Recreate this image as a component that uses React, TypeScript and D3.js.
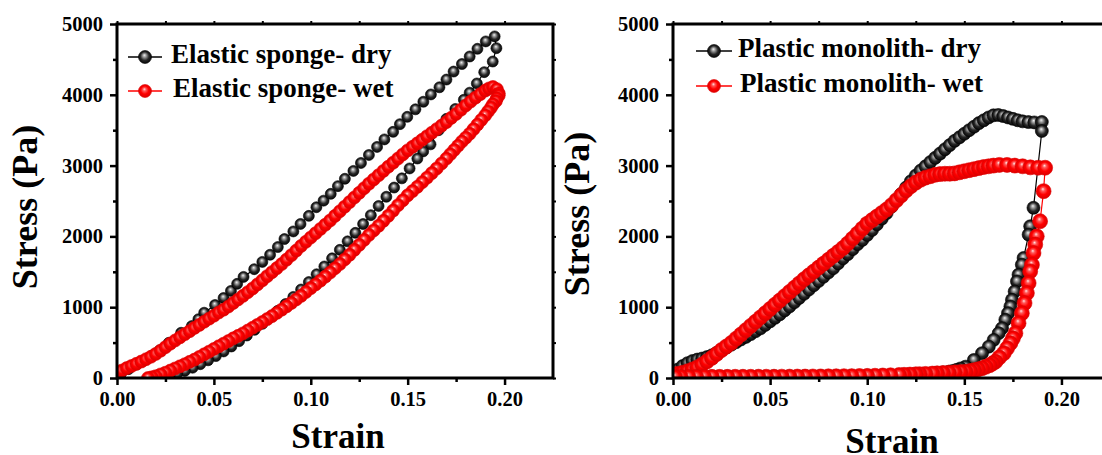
import React, { useRef, useEffect } from 'react';
import * as d3 from 'd3';

// tick values
const xTicks = [0, 0.05, 0.1, 0.15, 0.2];
const xMinorTicks = [0.025, 0.075, 0.125, 0.175];
const yTicks = [0, 1000, 2000, 3000, 4000, 5000];
const yMinorTicks = [500, 1500, 2500, 3500, 4500];

// [strain, stress (Pa)], in recording order
const elasticDry: [number, number][] = [
  [0.002, 60], [0.006, 125], [0.010, 190], [0.014, 250], [0.018, 315], [0.022, 390], [0.0267, 497],
  [0.0331, 639], [0.0386, 733], [0.042, 830], [0.045, 922], [0.0506, 1031], [0.055, 1130], [0.0588, 1230],
  [0.062, 1330], [0.0653, 1428], [0.0708, 1537], [0.075, 1640], [0.079, 1741], [0.083, 1850], [0.0864, 1963],
  [0.091, 2070], [0.0947, 2176], [0.099, 2290], [0.1029, 2412], [0.1066, 2505], [0.1103, 2601], [0.114, 2710],
  [0.1176, 2814], [0.122, 2925], [0.1259, 3037], [0.130, 3150], [0.1342, 3264], [0.138, 3370], [0.1425, 3477],
  [0.146, 3585], [0.1498, 3689], [0.154, 3795], [0.1581, 3902], [0.162, 4005], [0.1664, 4106], [0.170, 4215],
  [0.1737, 4328], [0.178, 4435], [0.182, 4541], [0.186, 4650], [0.1903, 4754], [0.1949, 4825],
  [0.1958, 4659], [0.1939, 4470],
  [0.1895, 4320], [0.1857, 4160], [0.182, 4030], [0.179, 3930], [0.1746, 3800], [0.170, 3660], [0.166, 3500],
  [0.1618, 3300], [0.158, 3200], [0.155, 3100], [0.151, 2960], [0.147, 2820], [0.143, 2690], [0.139, 2560],
  [0.135, 2430], [0.131, 2300], [0.127, 2175], [0.123, 2050], [0.119, 1930], [0.115, 1810], [0.111, 1690],
  [0.107, 1575], [0.103, 1465], [0.099, 1355], [0.095, 1250], [0.091, 1145], [0.087, 1045], [0.083, 950],
  [0.079, 855], [0.075, 765], [0.071, 680], [0.067, 600], [0.063, 520], [0.059, 445], [0.055, 375],
  [0.051, 310], [0.047, 250], [0.043, 195], [0.039, 145], [0.035, 100], [0.031, 60], [0.027, 30],
  [0.023, 10], [0.020, 0],
];

const elasticWet: [number, number][] = [
  [0.0000, 70], [0.0025, 105], [0.0050, 140], [0.0075, 170], [0.0100, 200], [0.0125, 232], [0.0150, 265],
  [0.0175, 300], [0.0200, 340], [0.0225, 385], [0.0250, 435], [0.0275, 485], [0.0300, 530], [0.0325, 575],
  [0.0350, 620], [0.0375, 662], [0.0400, 708], [0.0425, 750], [0.0450, 795], [0.0475, 838], [0.0500, 880],
  [0.0525, 925], [0.0550, 965], [0.0575, 1010], [0.0600, 1060], [0.0625, 1110], [0.0650, 1160], [0.0675, 1212],
  [0.0700, 1265], [0.0725, 1322], [0.0750, 1380], [0.0775, 1438], [0.0800, 1495], [0.0825, 1552], [0.0850, 1610],
  [0.0875, 1672], [0.0900, 1735], [0.0925, 1800], [0.0950, 1865], [0.0975, 1925], [0.1000, 1985], [0.1025, 2045],
  [0.1050, 2105], [0.1075, 2165], [0.1100, 2225], [0.1125, 2290], [0.1150, 2355], [0.1175, 2420], [0.1200, 2485],
  [0.1225, 2550], [0.1250, 2615], [0.1275, 2680], [0.1300, 2745], [0.1325, 2805], [0.1350, 2865], [0.1375, 2925],
  [0.1400, 2985], [0.1425, 3042], [0.1450, 3100], [0.1475, 3158], [0.1500, 3215], [0.1525, 3265], [0.1550, 3315],
  [0.1575, 3365], [0.1600, 3415], [0.1625, 3465], [0.1650, 3515], [0.1675, 3565], [0.1700, 3615], [0.1725, 3675],
  [0.1750, 3730], [0.1775, 3790], [0.1800, 3850], [0.1825, 3905], [0.1850, 3960], [0.1875, 4010], [0.1900, 4060],
  [0.1920, 4090], [0.1940, 4110], [0.1960, 4080], [0.1970, 4020],
  [0.1970, 3990], [0.1960, 3950], [0.1955, 3910], [0.1940, 3865], [0.1930, 3820], [0.1915, 3765], [0.1900, 3710],
  [0.1880, 3645], [0.1860, 3580], [0.1840, 3515], [0.1820, 3450], [0.1800, 3395], [0.1780, 3340], [0.1760, 3280],
  [0.1740, 3220], [0.1720, 3160], [0.1700, 3100], [0.1675, 3030], [0.1650, 2960], [0.1625, 2895], [0.1600, 2830],
  [0.1575, 2765], [0.1550, 2700], [0.1525, 2640], [0.1500, 2580], [0.1475, 2510], [0.1450, 2440], [0.1425, 2365],
  [0.1400, 2290], [0.1375, 2220], [0.1350, 2150], [0.1325, 2085], [0.1300, 2020], [0.1275, 1950], [0.1250, 1880],
  [0.1225, 1810], [0.1200, 1740], [0.1175, 1675], [0.1150, 1610], [0.1125, 1550], [0.1100, 1490], [0.1075, 1432],
  [0.1050, 1375], [0.1025, 1322], [0.1000, 1270], [0.0975, 1215], [0.0950, 1160], [0.0925, 1110], [0.0900, 1060],
  [0.0875, 1012], [0.0850, 965], [0.0825, 920], [0.0800, 875], [0.0775, 832], [0.0750, 790], [0.0725, 750],
  [0.0700, 710], [0.0675, 670], [0.0650, 630], [0.0625, 595], [0.0600, 560], [0.0575, 522], [0.0550, 485],
  [0.0525, 448], [0.0500, 410], [0.0475, 372], [0.0450, 335], [0.0425, 298], [0.0400, 260], [0.0375, 228],
  [0.0350, 195], [0.0325, 165], [0.0300, 135], [0.0275, 105], [0.0250, 75], [0.0225, 50], [0.0200, 25],
  [0.0180, 10], [0.0160, 0],
];

const plasticDry: [number, number][] = [
  [0.0000, 60], [0.0025, 120], [0.0050, 170], [0.0075, 210], [0.0100, 240], [0.0125, 260], [0.0150, 275],
  [0.0175, 295], [0.0200, 320], [0.0225, 355], [0.0250, 395], [0.0275, 430], [0.0300, 470], [0.0325, 505],
  [0.0350, 545], [0.0375, 580], [0.0400, 620], [0.0425, 660], [0.0450, 700], [0.0475, 750], [0.0500, 800],
  [0.0525, 850], [0.0550, 900], [0.0575, 955], [0.0600, 1010], [0.0625, 1070], [0.0650, 1130], [0.0675, 1190],
  [0.0700, 1250], [0.0725, 1310], [0.0750, 1370], [0.0775, 1430], [0.0800, 1490], [0.0825, 1550], [0.0850, 1620],
  [0.0875, 1690], [0.0900, 1750], [0.0925, 1820], [0.0950, 1890], [0.0975, 1950], [0.1000, 2020], [0.1025, 2090],
  [0.1050, 2170], [0.1075, 2250], [0.1100, 2330], [0.1125, 2420], [0.1150, 2510], [0.1175, 2600], [0.1200, 2690],
  [0.1225, 2780], [0.1250, 2860], [0.1275, 2930], [0.1300, 2990], [0.1325, 3050], [0.1350, 3110], [0.1375, 3170],
  [0.1400, 3230], [0.1425, 3290], [0.1450, 3350], [0.1475, 3400], [0.1500, 3450], [0.1525, 3500], [0.1550, 3550],
  [0.1575, 3600], [0.1600, 3640], [0.1625, 3680], [0.1650, 3710], [0.1675, 3715], [0.1700, 3700], [0.1725, 3680],
  [0.1750, 3660], [0.1775, 3640], [0.1800, 3625], [0.1830, 3615], [0.1860, 3610], [0.1899, 3616],
  [0.1899, 3489], [0.1856, 2404], [0.1839, 2143], [0.1831, 2025], [0.1805, 1695], [0.1796, 1600],
  [0.1779, 1459], [0.1771, 1364], [0.1759, 1222], [0.1745, 1105], [0.1737, 1010], [0.1725, 916],
  [0.1711, 822], [0.1694, 704], [0.1677, 633], [0.1651, 538], [0.1626, 443], [0.1591, 350], [0.1549, 255],
  [0.1506, 160], [0.1480, 135], [0.1460, 115], [0.1440, 100], [0.1421, 89], [0.1390, 78], [0.1350, 65],
  [0.1300, 57], [0.1260, 50], [0.1210, 46], [0.1164, 42], [0.108, 38], [0.100, 35], [0.092, 32], [0.084, 30],
  [0.076, 28], [0.068, 26], [0.060, 25], [0.052, 24], [0.044, 22], [0.036, 21], [0.028, 20], [0.020, 20],
  [0.012, 20], [0.004, 20],
];

const plasticWet: [number, number][] = [
  [0.0000, 50], [0.0025, 60], [0.0050, 75], [0.0075, 95], [0.0100, 120], [0.0125, 150], [0.0150, 190],
  [0.0175, 235], [0.0200, 285], [0.0225, 340], [0.0250, 395], [0.0275, 445], [0.0300, 495], [0.0325, 555],
  [0.0350, 615], [0.0375, 675], [0.0400, 735], [0.0425, 795], [0.0450, 855], [0.0475, 915], [0.0500, 975],
  [0.0525, 1035], [0.0550, 1095], [0.0575, 1155], [0.0600, 1215], [0.0625, 1275], [0.0650, 1335], [0.0675, 1395],
  [0.0700, 1450], [0.0725, 1505], [0.0750, 1560], [0.0775, 1615], [0.0800, 1670], [0.0825, 1725], [0.0850, 1780],
  [0.0875, 1835], [0.0900, 1900], [0.0925, 1970], [0.0950, 2040], [0.0975, 2110], [0.1000, 2180], [0.1025, 2230],
  [0.1050, 2280], [0.1075, 2330], [0.1100, 2380], [0.1125, 2440], [0.1150, 2510], [0.1175, 2580], [0.1200, 2650],
  [0.1225, 2710], [0.1250, 2760], [0.1275, 2800], [0.1300, 2830], [0.1325, 2850], [0.1350, 2870], [0.1375, 2880],
  [0.1400, 2885], [0.1425, 2885], [0.1450, 2890], [0.1475, 2905], [0.1500, 2920], [0.1525, 2935], [0.1550, 2950],
  [0.1575, 2965], [0.1600, 2980], [0.1625, 2990], [0.1650, 3000], [0.1680, 3010], [0.1720, 3010], [0.1760, 3000],
  [0.1800, 2990], [0.1840, 2975], [0.1880, 2970], [0.1916, 2970],
  [0.1908, 2639], [0.189, 2214], [0.1873, 2001], [0.1865, 1884], [0.1856, 1766], [0.1848, 1600],
  [0.1839, 1506], [0.1831, 1341], [0.1822, 1200], [0.181, 1058], [0.1796, 916], [0.1779, 775],
  [0.1763, 633], [0.1750, 560], [0.1737, 491], [0.1720, 420], [0.1703, 350], [0.1680, 290], [0.166, 231],
  [0.1645, 205], [0.1630, 180], [0.1610, 158], [0.1591, 137], [0.1570, 122], [0.1550, 110], [0.1530, 98],
  [0.1506, 89], [0.1480, 84], [0.1450, 80], [0.1420, 75], [0.1390, 70], [0.1360, 66], [0.1335, 62],
  [0.1300, 58], [0.1270, 54], [0.1250, 52], [0.1220, 48], [0.1190, 45], [0.1164, 42], [0.112, 38],
  [0.108, 35], [0.104, 32], [0.100, 30], [0.096, 28], [0.092, 26], [0.088, 25], [0.084, 24], [0.080, 23],
  [0.076, 22], [0.072, 21], [0.068, 20], [0.064, 20], [0.060, 19], [0.056, 19], [0.052, 18], [0.048, 18],
  [0.044, 18], [0.040, 17], [0.036, 17], [0.032, 17], [0.028, 16], [0.024, 16], [0.020, 16], [0.016, 16],
  [0.012, 15], [0.008, 15], [0.004, 15], [0.001, 15],
];

const FONT = '"Liberation Serif", "Times New Roman", serif';

function drawPanel(svg, p) {
  const x = d3.scaleLinear().domain([0, 0.225]).range([p.left, p.right]);
  const y = d3.scaleLinear().domain([0, 5000]).range([p.bottom, p.top]);

  svg.append('clipPath').attr('id', p.clipId)
    .append('rect')
    .attr('x', p.left).attr('y', p.top)
    .attr('width', p.right - p.left).attr('height', p.bottom - p.top);

  const plot = svg.append('g').attr('clip-path', `url(#${p.clipId})`);
  const line = d3.line().x(d => x(d[0])).y(d => y(d[1]));

  p.series.forEach(s => {
    plot.append('path')
      .datum(s.data)
      .attr('d', line)
      .attr('fill', 'none')
      .attr('stroke', s.color)
      .attr('stroke-width', 1.2);
    plot.append('g').selectAll('circle')
      .data(s.data)
      .enter()
      .append('circle')
      .attr('cx', d => x(d[0]))
      .attr('cy', d => y(d[1]))
      .attr('r', s.r)
      .attr('fill', `url(#${s.grad})`)
      .attr('stroke', s.edge)
      .attr('stroke-width', 0.6);
  });

  // axes
  const styleAxis = (g, width) => {
    g.select('.domain').remove();
    g.selectAll('.tick line').attr('stroke', '#000').attr('stroke-width', width);
    g.selectAll('.tick text')
      .attr('fill', '#000')
      .style('font-family', FONT)
      .style('font-weight', 'bold')
      .style('font-size', '20.5px');
  };
  const noLabel = () => '';

  svg.append('g').attr('transform', `translate(0,${p.bottom})`)
    .call(d3.axisBottom(x).tickValues(xTicks).tickFormat(d3.format('.2f')).tickSize(7).tickPadding(6))
    .call(g => styleAxis(g, 2.5));
  svg.append('g').attr('transform', `translate(0,${p.bottom})`)
    .call(d3.axisBottom(x).tickValues(xMinorTicks).tickFormat(noLabel).tickSize(4))
    .call(g => styleAxis(g, 2.5));
  svg.append('g').attr('transform', `translate(${p.left},0)`)
    .call(d3.axisLeft(y).tickValues(yTicks).tickFormat(d3.format('d')).tickSize(7).tickPadding(7))
    .call(g => styleAxis(g, 2.5));
  svg.append('g').attr('transform', `translate(${p.left},0)`)
    .call(d3.axisLeft(y).tickValues(yMinorTicks).tickFormat(noLabel).tickSize(4))
    .call(g => styleAxis(g, 2.5));
  svg.append('g').attr('transform', `translate(0,${p.top})`)
    .call(d3.axisTop(x).tickValues(xTicks.concat(xMinorTicks)).tickFormat(noLabel).tickSize(3))
    .call(g => styleAxis(g, 2));
  svg.append('g').attr('transform', `translate(${p.right},0)`)
    .call(d3.axisRight(y).tickValues(yTicks.concat(yMinorTicks)).tickFormat(noLabel).tickSize(3))
    .call(g => styleAxis(g, 2));

  // frame
  svg.append('rect')
    .attr('x', p.left).attr('y', p.top)
    .attr('width', p.right - p.left).attr('height', p.bottom - p.top)
    .attr('fill', 'none').attr('stroke', '#000').attr('stroke-width', 3);

  // axis titles
  svg.append('text')
    .attr('transform', `translate(${p.yTitle[0]},${p.yTitle[1]}) rotate(-90)`)
    .attr('text-anchor', 'middle')
    .style('font-family', FONT).style('font-weight', 'bold').style('font-size', '36px')
    .text('Stress (Pa)');
  svg.append('text')
    .attr('x', p.xTitle[0]).attr('y', p.xTitle[1])
    .attr('text-anchor', 'middle')
    .style('font-family', FONT).style('font-weight', 'bold').style('font-size', '35px')
    .text('Strain');

  // legend
  p.series.forEach((s, i) => {
    const ly = p.legend.rows[i];
    const g = svg.append('g');
    g.append('line')
      .attr('x1', p.legend.x0).attr('x2', p.legend.x1)
      .attr('y1', ly).attr('y2', ly)
      .attr('stroke', s.color).attr('stroke-width', 1.5);
    g.append('circle')
      .attr('cx', (p.legend.x0 + p.legend.x1) / 2).attr('cy', ly)
      .attr('r', 6.5)
      .attr('fill', `url(#${s.grad})`)
      .attr('stroke', s.edge).attr('stroke-width', 0.6);
    g.append('text')
      .attr('x', p.legend.tx[i]).attr('y', ly + 6)
      .style('font-family', FONT).style('font-weight', 'bold').style('font-size', '27px')
      .text(s.label);
  });
}

function App() {
  const svgRef = useRef(null);

  useEffect(() => {
    const svg = d3.select(svgRef.current);
    svg.selectAll('*').remove();

    const defs = svg.append('defs');
    const ball = (id, stops) => {
      const g = defs.append('radialGradient').attr('id', id)
        .attr('cx', '50%').attr('cy', '50%').attr('r', '55%')
        .attr('fx', '45%').attr('fy', '35%');
      stops.forEach(([o, c]) => g.append('stop').attr('offset', o).attr('stop-color', c));
    };
    ball('ballBlack', [['0%', '#f2f2f2'], ['25%', '#9a9a9a'], ['60%', '#262626'], ['100%', '#000']]);
    ball('ballRed', [['0%', '#ffe6e6'], ['22%', '#ff5a5a'], ['55%', '#ff0000'], ['100%', '#d40000']]);

    drawPanel(svg, {
      left: 117, right: 553, top: 24, bottom: 378, clipId: 'clipA',
      yTitle: [37, 207], xTitle: [338, 448],
      legend: { x0: 128, x1: 162, rows: [57, 91], tx: [171, 173] },
      series: [
        { data: elasticDry, r: 5.5, color: '#000', edge: '#000', grad: 'ballBlack', label: 'Elastic sponge- dry' },
        { data: elasticWet, r: 6.5, color: '#ff0000', edge: '#e00000', grad: 'ballRed', label: 'Elastic sponge- wet' },
      ],
    });

    drawPanel(svg, {
      left: 673, right: 1110, top: 24, bottom: 378, clipId: 'clipB',
      yTitle: [589, 214], xTitle: [892, 453],
      legend: { x0: 696, x1: 732, rows: [51, 86], tx: [738, 740] },
      series: [
        { data: plasticDry, r: 6.5, color: '#000', edge: '#000', grad: 'ballBlack', label: 'Plastic monolith- dry' },
        { data: plasticWet, r: 7.5, color: '#ff0000', edge: '#e00000', grad: 'ballRed', label: 'Plastic monolith- wet' },
      ],
    });
  }, []);

  return (
    <svg
      ref={svgRef}
      width={1102}
      height={455}
      style={{ position: 'absolute', left: 0, top: 0, background: '#fff' }}
    />
  );
}

export default App;
